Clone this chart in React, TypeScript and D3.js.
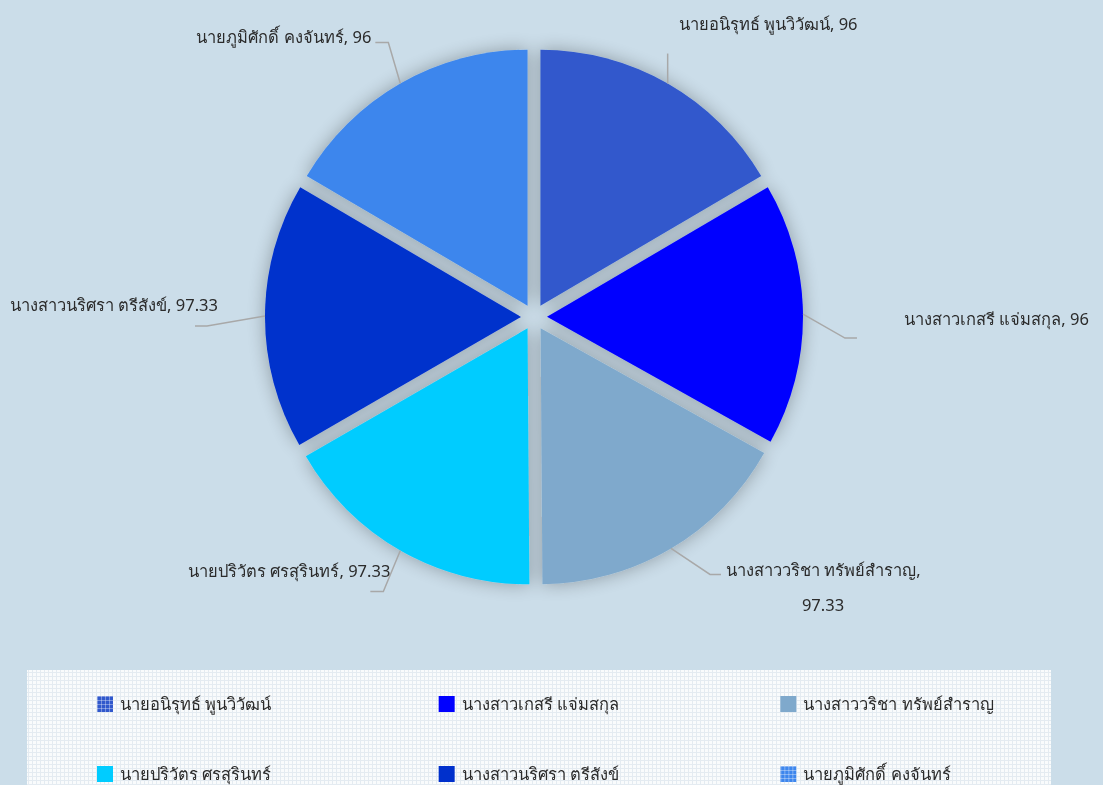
import React from 'react'
import * as d3 from 'd3'

const names = [
    'นายอนิรุทธ์ พูนวิวัฒน์',
    'นางสาวเกสรี แจ่มสกุล',
    'นางสาววริชา ทรัพย์สำราญ',
    'นายปริวัตร ศรสุรินทร์',
    'นางสาวนริศรา ตรีสังข์',
    'นายภูมิศักดิ์ คงจันทร์',
]
const scores = [96, 96, 97.33, 97.33, 97.33, 96]
const colors = ['#3058cc', '#0000ff', '#7fa9cc', '#00ccff', '#0030cc', '#3d86ed']
const patterned = [true, false, false, false, false, true]

// leader line / label layout per slice (elbow offset, tail, text offset, anchor)
const labelLayout = [
    { ex: 0, ey: -30, tail: 0, tx: 11, ty: -24, anchor: 'start', wrap: false },
    { ex: 42, ey: 24, tail: 12, tx: 47, ty: -13, anchor: 'start', wrap: false },
    { ex: 39, ey: 26, tail: 11, tx: 5, ty: 2, anchor: 'start', wrap: true },
    { ex: -17, ey: 41, tail: -13, tx: 20, ty: -14, anchor: 'end', wrap: false },
    { ex: -58, ey: 10, tail: -12, tx: 23, ty: -15, anchor: 'end', wrap: false },
    { ex: -12, ey: -41, tail: -13, tx: -4, ty: 0, anchor: 'end', wrap: false },
]

const W = 1103
const H = 785
const cx = 534
const cy = 317
const radius = 256
const explode = 13
const font = "Tahoma, 'Noto Sans', 'DejaVu Sans', sans-serif"

export default function App() {
    const data = scores.map((v, i) => ({ name: names[i], value: v, i }))
    const pie = d3.pie<any>().sort(null).value(d => d.value)
    const arcs = pie(data)
    const arc = d3.arc<any>().innerRadius(0).outerRadius(radius)

    const legendX = d3.scaleBand<number>().domain([0, 1, 2]).range([70, 1095])
    const legendY = d3.scaleBand<number>().domain([0, 1]).range([696, 836])

    return (
        <svg width={W} height={H} style={{ position: 'absolute', left: 0, top: 0 }}>
            <defs>
                <filter id="shadow" x="-20%" y="-20%" width="140%" height="140%">
                    <feGaussianBlur in="SourceAlpha" stdDeviation="9" />
                    <feComponentTransfer>
                        <feFuncA type="linear" slope="0.3" />
                    </feComponentTransfer>
                    <feMerge>
                        <feMergeNode />
                        <feMergeNode in="SourceGraphic" />
                    </feMerge>
                </filter>
                <pattern id="legendGrid" width="4" height="4" patternUnits="userSpaceOnUse">
                    <rect width="4" height="4" fill="#f9fbfc" />
                    <path d="M0 0.5H4M0.5 0V4" stroke="#e4ebf1" strokeWidth="1" />
                </pattern>
                {colors.map((c, i) => (
                    <pattern key={i} id={`mark${i}`} width="4" height="4" patternUnits="userSpaceOnUse">
                        <rect width="4" height="4" fill={c} />
                        <path d="M0 0.5H4M0.5 0V4" stroke="#ffffff" strokeOpacity="0.35" strokeWidth="1" />
                    </pattern>
                ))}
            </defs>
            <rect width={W} height={H} fill="#cbdde9" />

            <g filter="url(#shadow)">
                {arcs.map((a, i) => {
                    const mid = (a.startAngle + a.endAngle) / 2
                    const dx = explode * Math.sin(mid)
                    const dy = -explode * Math.cos(mid)
                    return (
                        <path key={i} d={arc(a) as string} fill={colors[i]}
                            transform={`translate(${cx + dx},${cy + dy})`} />
                    )
                })}
            </g>

            <g fontFamily={font} fontSize={16.5} fill="#2b2b2b">
                {arcs.map((a, i) => {
                    const mid = (a.startAngle + a.endAngle) / 2
                    const rr = radius + explode
                    const x0 = cx + rr * Math.sin(mid)
                    const y0 = cy - rr * Math.cos(mid)
                    const L = labelLayout[i]
                    const x1 = x0 + L.ex
                    const y1 = y0 + L.ey
                    const x2 = x1 + L.tail
                    const label = `${a.data.name}, ${a.data.value}`
                    const tx = x2 + L.tx
                    const ty = y1 + L.ty
                    return (
                        <g key={i}>
                            <polyline points={`${x0},${y0} ${x1},${y1} ${x2},${y1}`}
                                fill="none" stroke="#a8a8a8" strokeWidth={1.5} />
                            {L.wrap ? (
                                <text x={tx} y={ty}>
                                    <tspan x={tx} textAnchor="start">{`${a.data.name},`}</tspan>
                                    <tspan x={tx + 97} dy={35} textAnchor="middle">{`${a.data.value}`}</tspan>
                                </text>
                            ) : (
                                <text x={tx} y={ty} textAnchor={L.anchor as any}>{label}</text>
                            )}
                        </g>
                    )
                })}
            </g>

            <rect x={27} y={670} width={1024} height={140} fill="url(#legendGrid)" />
            <g fontFamily={font} fontSize={16.5} fill="#2b2b2b">
                {data.map((d, i) => {
                    const col = i % 3
                    const row = Math.floor(i / 3)
                    const x = (legendX(col) as number) + 27
                    const y = legendY(row) as number
                    return (
                        <g key={i} transform={`translate(${x},${y})`}>
                            <rect width={16} height={16} fill={patterned[i] ? `url(#mark${i})` : colors[i]} />
                            <text x={23} y={14}>{d.name}</text>
                        </g>
                    )
                })}
            </g>
        </svg>
    )
}
